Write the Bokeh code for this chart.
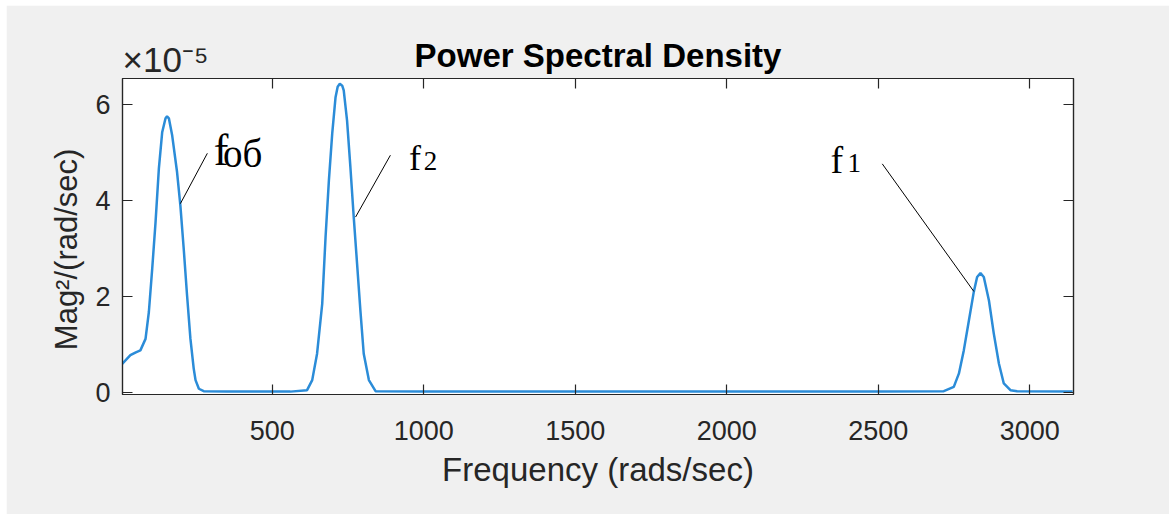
from bokeh.plotting import figure
from bokeh.models import Range1d, FixedTicker, LinearAxis, Label, CustomJSTickFormatter
from bokeh.embed import file_html
from bokeh.resources import INLINE

# ---- data (PSD, units of 1e-5 Mag^2/(rad/sec)) ----
freq = [5, 32, 50, 65, 82, 93, 104, 115, 126, 137, 148, 153, 159, 170, 186, 197, 208, 219, 230,
        241, 247, 258, 274, 350, 450, 560, 615, 632, 648, 665, 676, 687, 698, 709, 716, 723, 731,
        736, 747, 758, 769, 780, 791, 802, 819, 841, 1000, 1500, 2000, 2500, 2716, 2749, 2766,
        2782, 2799, 2815, 2826, 2837, 2848, 2865, 2881, 2898, 2914, 2936, 2958, 3141]
psd = [0.60, 0.78, 0.84, 0.88, 1.12, 1.68, 2.58, 3.55, 4.67, 5.43, 5.72, 5.76, 5.72, 5.36, 4.60,
       3.90, 3.00, 2.03, 1.13, 0.50, 0.26, 0.08, 0.03, 0.02, 0.02, 0.02, 0.05, 0.26, 0.81, 1.85,
       3.24, 4.42, 5.40, 6.16, 6.38, 6.44, 6.40, 6.30, 5.67, 4.70, 3.66, 2.69, 1.71, 0.81, 0.26,
       0.03, 0.02, 0.02, 0.02, 0.02, 0.03, 0.12, 0.40, 0.88, 1.51, 2.10, 2.41, 2.49, 2.41, 1.92,
       1.23, 0.60, 0.19, 0.05, 0.03, 0.02]
x_ticks = [500, 1000, 1500, 2000, 2500, 3000]
y_ticks = [0, 2, 4, 6]

title_text = "Power Spectral Density"
exp_text = "×10⁻⁵"
exp_at = 148  # x position (data) over which the exponent is centred

# annotation leader lines (x0, y0) -> (x1, y1) in data coords
lead_x0 = [197, 775, 2513]
lead_y0 = [3.94, 3.66, 4.77]
lead_x1 = [286, 890, 2815]
lead_y1 = [4.99, 4.95, 2.11]

AX = "#262626"
BG = "#f0f0f0"
SANS = "Liberation Sans"
SERIF = "Liberation Serif"
NBSP = "\u00a0"

p = figure(width=1163, height=509, output_backend="svg", toolbar_location=None,
           x_range=Range1d(6, 3144), y_range=Range1d(-0.04, 6.55),
           min_border_left=116, min_border_right=96, min_border_top=73, min_border_bottom=120,
           background_fill_color="white", border_fill_color=BG,
           outline_line_color=AX, outline_line_width=1.2)
p.margin = (5, 0, 0, 6)
p.grid.visible = False
p.title.visible = False

for ax in (p.xaxis[0], p.yaxis[0]):
    ax.axis_line_color = AX
    ax.axis_line_width = 1.2
    ax.major_tick_line_color = AX
    ax.major_tick_line_width = 1.2
    ax.major_tick_in = 10
    ax.major_tick_out = 0
    ax.minor_tick_line_color = None
    ax.major_label_text_font = SANS
    ax.major_label_text_font_size = "27px"
    ax.major_label_text_color = AX
    ax.axis_label_text_font = SANS
    ax.axis_label_text_font_style = "normal"
    ax.axis_label_text_color = AX

p.xaxis[0].axis_label_text_font_size = "33px"
p.yaxis[0].axis_label_text_font_size = "31px"
p.xaxis[0].ticker = FixedTicker(ticks=x_ticks)
p.yaxis[0].ticker = FixedTicker(ticks=y_ticks)
p.xaxis[0].axis_label = "Frequency (rads/sec)"
p.yaxis[0].axis_label = "Mag²/(rad/sec)" + NBSP * 3
p.xaxis[0].major_label_standoff = 26
p.yaxis[0].major_label_standoff = 12
p.xaxis[0].axis_label_standoff = 8
p.yaxis[0].axis_label_standoff = 8

# right axis: inner ticks only
right = LinearAxis(ticker=FixedTicker(ticks=y_ticks),
                   formatter=CustomJSTickFormatter(code="return ''"),
                   axis_line_color=AX, axis_line_width=1.2, major_tick_line_color=AX,
                   major_tick_line_width=1.2, major_tick_in=10, major_tick_out=0,
                   minor_tick_line_color=None, major_label_standoff=0,
                   major_label_text_font_size="1px")
p.add_layout(right, "right")

# top axis: inner ticks (as minor ticks), exponent as the only tick label, title as axis label
top = LinearAxis(ticker=FixedTicker(ticks=[exp_at], minor_ticks=x_ticks),
                 major_label_overrides={exp_at: exp_text},
                 axis_line_color=AX, axis_line_width=1.2,
                 major_tick_line_color=None, major_tick_in=0, major_tick_out=0,
                 minor_tick_line_color=AX, minor_tick_line_width=1.2,
                 minor_tick_in=10, minor_tick_out=0,
                 major_label_standoff=0, major_label_text_font=SANS,
                 major_label_text_font_size="35px", major_label_text_color=AX,
                 axis_label=title_text, axis_label_text_font=SANS,
                 axis_label_text_font_size="33px", axis_label_text_font_style="bold",
                 axis_label_text_color="black")
try:
    top.axis_label_standoff = -37
except Exception:
    top.axis_label_standoff = 0
p.add_layout(top, "above")

p.line(freq, psd, line_color="#2b8cd8", line_width=2.5)
p.segment(lead_x0, lead_y0, lead_x1, lead_y1, line_color="black", line_width=1)


# peak annotations
def note(x, y, t, size):
    p.add_layout(Label(x=x, y=y, text=t, text_font=SERIF, text_font_size=size,
                       text_color="black", text_baseline="middle"))


note(307, 5.05, "f", "44px")
note(338, 4.98, "об", "39px")
note(951, 4.90, "f", "36px")
note(1000, 4.83, "2", "27px")
note(2342, 4.86, "f", "38px")
note(2398, 4.78, "1", "27px")

open("out.html", "w").write(file_html(p, INLINE))
